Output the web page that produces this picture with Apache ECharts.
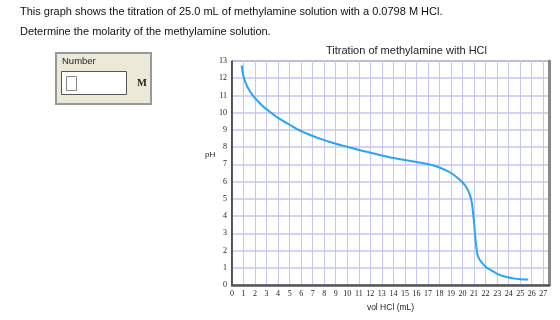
<!DOCTYPE html>
<html>
<head>
<meta charset="utf-8">
<script src="https://cdn.jsdelivr.net/npm/echarts@6/dist/echarts.min.js"></script>
<style>
  html, body { margin: 0; padding: 0; background: #fff; }
  #chart { width: 560px; height: 320px; }
</style>
</head>
<body>
<div id="chart"></div>
<script>
// volume of HCl added (mL) and the pH
const volHCl = [0.85, 0.9, 1, 1.2, 1.5, 1.8, 2.2, 2.6, 3, 4, 5, 6, 7, 8, 9, 10, 11, 12, 13, 14, 15, 16, 17, 18, 19, 19.5,
  20, 20.3, 20.6, 20.8, 21, 21.1, 21.2, 21.3, 21.5, 21.8, 22, 22.5, 23, 23.5, 24, 24.5, 25, 25.7];
const pH = [12.75, 12.45, 12.1, 11.7, 11.3, 11.0, 10.7, 10.42, 10.2, 9.7, 9.3, 8.93, 8.65, 8.41, 8.2, 8.02, 7.84, 7.68, 7.52, 7.37, 7.25, 7.14, 7.02, 6.82, 6.5, 6.25,
  5.95, 5.7, 5.3, 4.8, 3.6, 2.8, 2.2, 1.75, 1.45, 1.2, 1.05, 0.85, 0.65, 0.52, 0.43, 0.37, 0.34, 0.32];

const questionText = "This graph shows the titration of 25.0 mL of methylamine solution with a 0.0798 M HCl.";
const promptText = "Determine the molarity of the methylamine solution.";

const gridColor = "#c6c6f2";
const tickFont = { fontFamily: "Liberation Serif", fontSize: 8, color: "#222" };

const chart = echarts.init(document.getElementById("chart"));

const option = {
  animation: false,
  title: {
    text: "Titration of methylamine with HCl",
    left: 321,
    top: 40,
    textStyle: { fontFamily: "Liberation Sans", fontSize: 11, fontWeight: "normal", color: "#222" },
  },
  grid: { left: 232, right: 11, top: 61, bottom: 35, show: true, borderColor: "#444", borderWidth: 1 },
  xAxis: {
    type: "value",
    min: 0,
    max: 27.5,
    interval: 1,
    name: "vol HCl (mL)",
    nameLocation: "middle",
    nameGap: 16,
    nameTextStyle: { fontFamily: "Liberation Sans", fontSize: 8.5, color: "#222" },
    axisLine: { lineStyle: { color: "#555", width: 2.5 } },
    axisTick: { show: false },
    axisLabel: Object.assign({ margin: 5, showMaxLabel: false }, tickFont),
    splitLine: { lineStyle: { color: gridColor, width: 1 } },
  },
  yAxis: [
    {
      type: "value",
      min: 0,
      max: 13,
      interval: 1,
      axisLine: { show: true, lineStyle: { color: "#333", width: 1.5 } },
      axisTick: { show: false },
      axisLabel: Object.assign({ margin: 5 }, tickFont),
      splitLine: { lineStyle: { color: gridColor, width: 1.5 } },
    },
    {
      type: "value",
      min: 0,
      max: 13,
      position: "right",
      axisLine: { show: true, lineStyle: { color: "#888", width: 3 } },
      axisTick: { show: false },
      axisLabel: { show: false },
      splitLine: { show: false },
    },
  ],
  series: [
    {
      type: "line",
      data: volHCl.map((v, i) => [v, pH[i]]),
      smooth: 0.3,
      showSymbol: false,
      lineStyle: { color: "#2ba4f5", width: 2 },
    },
  ],
  graphic: [
    { type: "text", left: 20, top: 6, style: { text: questionText, font: "11px 'Liberation Sans'", fill: "#111" } },
    { type: "text", left: 20, top: 26, style: { text: promptText, font: "11px 'Liberation Sans'", fill: "#111" } },
    // y axis title sits a little above the middle in the original
    { type: "text", left: 205, top: 151, style: { text: "pH", font: "8px 'Liberation Sans'", fill: "#222" } },
    {
      type: "rect",
      shape: { x: 56, y: 53, width: 95, height: 51 },
      style: { fill: "#ece9d8", stroke: "#999", lineWidth: 2 },
    },
    { type: "text", left: 62, top: 56, style: { text: "Number", font: "9.5px 'Liberation Sans'", fill: "#222" } },
    {
      type: "rect",
      shape: { x: 61.5, y: 71.5, width: 65, height: 23 },
      style: { fill: "#fff", stroke: "#555", lineWidth: 1 },
    },
    {
      type: "rect",
      shape: { x: 66.5, y: 76.5, width: 10, height: 14 },
      style: { fill: "#fff", stroke: "#888", lineWidth: 1 },
    },
    { type: "text", left: 137, top: 78, style: { text: "M", font: "bold 10.5px 'Liberation Serif'", fill: "#222" } },
  ],
};

chart.setOption(option);
</script>
</body>
</html>
